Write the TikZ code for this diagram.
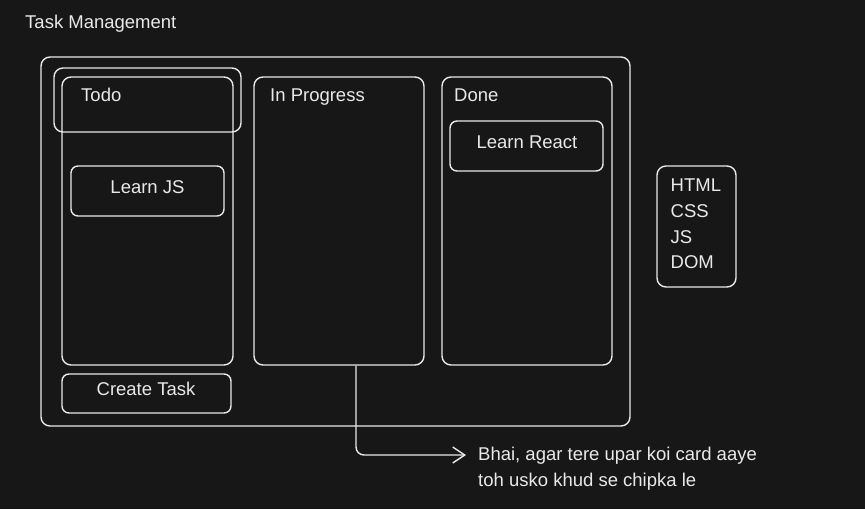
\documentclass[tikz,border=0pt]{standalone}
\usepackage{fontspec}
\setmainfont{Liberation Sans}
\usetikzlibrary{arrows.meta,calc}
\definecolor{bg}{HTML}{171717}
\definecolor{ink}{HTML}{E9E9E9}
\begin{document}
\begin{tikzpicture}[x=1pt,y=-1pt,
  box/.style={draw=ink, line width=1.4pt, rounded corners=9pt, inner sep=0pt},
  card/.style={box, rounded corners=7pt},
  txt/.style={text=ink, font=\fontsize{18.5}{22}\selectfont, inner sep=0pt},
  conn/.style={draw=ink, line width=1.4pt, rounded corners=8pt, -{Straight Barb[length=12pt,width=16pt,line width=1.4pt]}}]
\fill[bg] (0,0) rectangle (865,509);
\useasboundingbox (0,0) rectangle (865,509);

\node[txt, anchor=base west] (title) at (25,28) {Task Management};

\node[box, minimum width=589pt, minimum height=369pt] (outer) at (335.5,241.5) {};
\node[box, minimum width=187pt, minimum height=64pt] (todohead) at (147.5,100) {};
\node[box, minimum width=171pt, minimum height=288pt] (todo) at (147.5,221) {};
\node[box, minimum width=170pt, minimum height=288pt] (inprog) at (339,221) {};
\node[box, minimum width=170pt, minimum height=288pt] (done) at (527,221) {};
\node[card, minimum width=153pt, minimum height=50pt] (learnjs) at (147.5,191) {};
\node[card, minimum width=153pt, minimum height=50pt] (learnreact) at (526.5,146) {};
\node[card, minimum width=169pt, minimum height=39pt] (create) at (146.5,393.5) {};
\node[box, minimum width=79pt, minimum height=121pt] (html) at (696.5,226.5) {};

\node[txt, anchor=base west] (todot) at (81,101) {Todo};
\node[txt, anchor=base west] (inprogt) at (270,101) {In Progress};
\node[txt, anchor=base west] (donet) at (454,101) {Done};
\node[txt, anchor=base] (learnjst) at (147.5,193) {Learn JS};
\node[txt, anchor=base] (learnreactt) at (527,148) {Learn React};
\node[txt, anchor=base] (createt) at (146,395) {Create Task};

\node[txt, anchor=base west] (l1) at (670.5,191.7) {HTML};
\node[txt, anchor=base west] (l2) at (670.5,217.4) {CSS};
\node[txt, anchor=base west] (l3) at (670.5,243.1) {JS};
\node[txt, anchor=base west] (l4) at (670.5,268.8) {DOM};

\node[txt, anchor=base west] (note1) at (478,460) {Bhai, agar tere upar koi card aaye};
\node[txt, anchor=base west] (note2) at (478,486) {toh usko khud se chipka le};

\coordinate (tip) at (466,455);
\draw[conn] ([xshift=17pt]inprog.south) |- (tip);
\end{tikzpicture}
\end{document}
